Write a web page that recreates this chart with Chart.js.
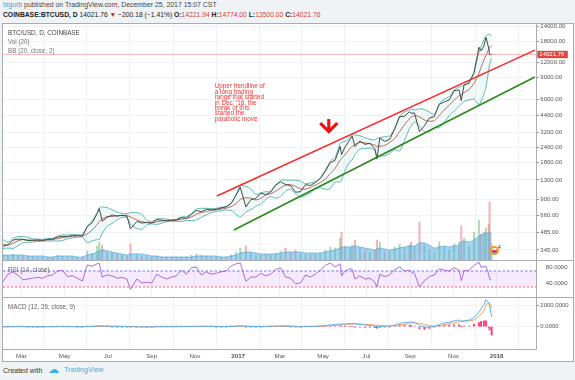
<!DOCTYPE html>
<html><head><meta charset="utf-8">
<script src="https://cdn.jsdelivr.net/npm/chart.js@4"></script>
<style>
html,body{margin:0;padding:0;}
body{width:575px;height:380px;background:#f0f3f6;position:relative;overflow:hidden;font-family:"Liberation Sans",Arial,sans-serif;}
.t{position:absolute;white-space:nowrap;line-height:1;}
#frame{position:absolute;left:2px;top:23px;width:570px;height:337px;border:1px solid #a9adb3;background:#fff;}
canvas{position:absolute;}
.sep{position:absolute;left:3px;width:570px;height:1px;background:#a9adb3;z-index:5;}
.b{font-weight:bold;color:#222;}
.r{color:#d8403a;}
</style></head><body>
<div class="t" style="left:3px;top:2.3px;font-size:6.9px;color:#444;"><span style="color:#3d9ddc">bigurb</span> published on TradingView.com, December 25, 2017 15:07 CST</div>
<div class="t" style="left:3px;top:11.8px;font-size:6.75px;color:#222;"><span class="b">COINBASE:BTCUSD, D</span> 14021.76 <span style="color:#d21e1e">▼</span> −200.18 (−1.41%) <span class="b">O:</span><span class="r">14221.94</span> <span class="b">H:</span><span class="r">14774.00</span> <span class="b">L:</span><span class="r">13500.00</span> <span class="b">C:</span><span class="r">14021.76</span></div>
<div id="frame"></div>
<canvas id="cMain" width="570" height="246" style="left:3px;top:14px;width:570px;height:246px;z-index:2"></canvas>
<canvas id="cRsi" width="570" height="36" style="left:3px;top:261px;width:570px;height:36px;z-index:2"></canvas>
<canvas id="cMacd" width="570" height="64" style="left:3px;top:297px;width:570px;height:64px;z-index:2"></canvas>
<div class="sep" style="top:260px"></div>
<div class="sep" style="top:297px"></div>
<div class="t" style="left:8px;top:30px;font-size:6.3px;color:#444;z-index:6">BTC/USD, D, COINBASE</div>
<div class="t" style="left:8px;top:39.2px;font-size:6.3px;color:#777;z-index:6">Vol (20)</div>
<div class="t" style="left:8px;top:48.2px;font-size:6.3px;color:#777;z-index:6">BB (20, close, 2)</div>
<div class="t" style="left:8px;top:266.5px;font-size:6.3px;color:#666;z-index:6">RSI (14, close)</div>
<div class="t" style="left:8px;top:304px;font-size:6.3px;color:#666;z-index:6">MACD (12, 26, close, 9)</div>
<div class="t" style="left:490px;top:246px;width:9px;height:9px;border:2px solid #f39a2e;border-radius:50%;box-sizing:border-box;background:linear-gradient(#fff 35%,#e04848 35%,#e04848 55%,#fff 55%,#fff 70%,#4a6fd0 70%);z-index:6"></div>
<div class="t" style="left:498px;top:245px;font-size:5px;color:#333;z-index:6">4</div>
<div class="t" style="left:3px;top:366.5px;font-size:7px;color:#333;">Created with</div>
<div class="t" style="left:48px;top:363.5px;font-size:11px;color:#3bb0e3;">☁</div>
<div class="t" style="left:64px;top:366.3px;font-size:7.2px;color:#3bb0e3;">TradingView</div>
<script>
// ---------- DATA (days counted from 2017-01-01) ----------
const days      = [-332,-325,-318,-311,-304,-297,-290,-283,-276,-269,-262,-255,-248,-241,-234,-227,-220,-213,-206,-199,-196,-192,-185,-178,-171,-164,-157,-152,-143,-136,-129,-122,-115,-108,-101,-94,-87,-80,-73,-66,-59,-52,-45,-38,-31,-24,-17,-10,-3,3,11,18,25,32,39,46,53,60,67,74,81,88,95,102,109,116,123,130,137,144,146,151,158,161,165,172,179,186,193,196,200,207,214,221,228,235,242,244,249,256,263,270,277,284,291,298,305,312,315,319,326,333,340,343,347,350,354,355,358];
const closes    = [370,381,416,424,422,412,415,417,413,422,424,441,446,446,452,453,448,537,578,690,755,595,640,670,655,665,655,515,592,575,580,574,613,607,597,605,612,637,630,676,730,712,745,738,745,765,780,830,975,1130,780,895,915,1010,985,1035,1175,1255,1190,1170,1030,1040,1190,1170,1240,1335,1530,1800,1890,2450,2100,2430,2800,2980,2450,2720,2550,2610,2350,1930,2870,2700,2800,3420,4300,4350,4740,4600,4620,3250,3620,4200,4320,5450,5700,5900,7050,7150,5850,7850,8100,9900,16050,15000,16400,19400,15600,13900,14022];
const bbUpper   = [420,400,430,445,445,440,426,424,422,428,430,448,460,458,462,462,462,540,600,700,770,780,770,740,710,690,685,700,700,680,605,590,620,625,618,612,618,645,650,690,750,760,760,755,760,775,790,840,980,1160,1150,1100,990,1020,1040,1050,1190,1290,1300,1290,1300,1270,1210,1230,1260,1360,1560,1850,2000,2600,2650,2700,2900,3050,3050,3000,2900,2800,2780,2850,2900,2950,3000,3450,4350,4700,4900,4950,4900,5000,4950,4700,4500,5500,6000,6300,7100,7600,7700,7900,8400,10000,14600,16200,18600,20000,20600,20400,20000];
const bbBasis   = [385,378,392,410,420,418,414,414,415,418,420,428,436,442,448,450,452,468,505,560,590,620,650,650,660,665,662,645,610,590,580,578,588,598,605,603,606,618,628,645,680,700,715,728,738,750,762,785,830,900,930,920,890,920,975,1000,1050,1120,1180,1190,1150,1100,1090,1130,1180,1240,1320,1470,1620,1900,1950,2100,2350,2450,2550,2650,2620,2580,2520,2450,2460,2500,2650,2850,3250,3700,4150,4250,4400,4300,4050,3950,4000,4400,4900,5350,5900,6400,6550,6800,7200,8100,9800,11000,12600,13800,15600,15900,16500];
const bbLower   = [355,358,355,372,395,398,402,405,408,408,410,408,412,426,434,438,442,395,410,420,420,470,540,570,610,640,640,560,520,510,555,565,560,572,592,594,594,592,605,600,610,640,670,700,715,725,735,730,680,640,710,740,790,820,900,950,920,950,1050,1090,1000,940,970,1020,1100,1120,1090,1100,1250,1250,1300,1550,1850,1900,2100,2330,2350,2380,2280,2050,2050,2050,2150,2300,2250,2750,3450,3600,3900,3600,3250,3250,3500,3500,3850,4400,4800,5250,5450,5750,5900,6000,5400,5800,6600,7600,10600,11500,13000];
const volumes   = [5,4,6,5,4,4,3,3,3,3,3,5,4,3,3,3,3,9,7,14,18,15,8,7,6,5,4,16,6,4,3,3,4,3,3,3,3,3,3,5,6,5,4,3,3,3,3,5,8,12,14,7,5,5,6,5,7,9,12,8,10,6,6,5,6,7,10,13,12,22,28,14,12,15,20,12,9,8,10,20,18,9,9,13,16,12,15,18,14,38,15,10,8,18,13,10,16,18,34,22,14,28,40,26,28,32,36,58,16];
const volumeMA  = [5,5,5,5,5,4,4,4,4,3,3,4,4,4,4,3,3,5,6,8,9,10,9,8,7,6,5,6,6,6,5,4,4,3,3,3,3,3,3,3,4,4,4,4,4,3,3,4,5,7,8,8,7,6,6,6,6,7,8,8,8,8,7,7,7,7,8,9,10,12,13,13,13,13,14,13,12,11,10,11,12,11,10,11,12,13,14,14,14,17,17,15,12,13,14,13,14,15,18,19,18,20,24,25,26,27,27,28,26];
const rsi       = [43,62,68,60,48,50,52,54,52,58,60,70,72,56,58,52,45,85,82,88,89,55,60,58,52,54,50,24,50,40,42,40,62,55,50,55,58,72,62,78,80,60,68,62,64,68,70,82,88,90,44,55,55,64,58,62,74,78,55,52,38,40,60,55,62,72,84,90,80,88,58,70,76,74,50,58,50,52,42,30,62,56,60,74,80,70,72,68,64,30,46,56,60,76,72,70,78,72,46,70,72,84,92,80,80,82,60,50,47];
const macd      = [-8,-6,4,10,10,5,2,1,0,2,3,7,9,8,7,6,3,20,38,60,72,55,48,45,36,28,20,-12,-10,-14,-14,-12,0,4,4,3,4,10,12,20,32,33,35,32,28,24,22,28,55,90,40,20,12,25,30,35,55,75,70,60,10,-20,20,30,40,65,110,165,200,260,245,250,300,330,260,220,170,120,60,0,40,40,60,160,330,380,440,450,430,120,-40,-40,20,220,360,420,560,640,520,560,620,880,1400,1700,2100,2600,2250,1950,950];
const macdSignal= [-10,-8,-3,3,7,7,5,3,2,2,2,4,6,7,7,7,5,8,16,28,36,42,46,47,44,40,34,24,10,0,-8,-11,-8,-4,0,2,3,5,8,12,18,26,30,31,31,29,26,26,34,50,60,48,36,30,30,32,38,50,60,63,50,30,18,20,28,40,60,95,135,180,195,215,245,265,270,255,230,195,150,130,100,80,70,90,150,230,310,330,370,320,220,120,50,80,170,270,370,470,500,520,560,650,1000,1200,1550,2050,2330,2250,1750];
const macdHist  = [2,2,7,7,3,-2,-3,-2,-2,0,1,3,3,1,0,-1,-2,12,22,32,36,13,2,-2,-8,-12,-14,-36,-20,-14,-6,-1,8,8,4,1,1,5,4,8,14,7,5,1,-3,-5,-4,2,21,40,-20,-28,-24,-5,0,3,17,25,10,-3,-40,-50,2,10,12,25,50,70,65,80,50,35,55,65,-10,-35,-60,-75,-90,-130,-60,-40,-10,70,180,150,130,120,60,-200,-260,-160,-30,140,190,150,190,170,20,40,60,230,400,500,550,550,-80,-300,-800];

const lastPrice   = 14021.76;
const priceTicks  = [345,485,660,900,1300,1800,2400,3200,4400,6000,9000,12000,18000,24000];
const rsiTicks    = [40,80];
const rsiLevels   = [70,30];
const macdTicks   = [0,2000];
const monthTicks  = [-306,-245,-184,-122,-61,0,59,120,181,243,304,365];
const monthLabels = ['Mar','May','Jul','Sep','Nov','2017','Mar','May','Jul','Sep','Nov','2018'];
const trendUpper  = [{x:-30,y:960},{x:419,y:15200}];
const trendLower  = [{x:-6,y:504},{x:419,y:9135}];
const noteAt      = {day:-33, price:8100};
const noteLines   = ['Upper trendline of','a long trading','range that started',"in Dec. '16, the",'break of this','started the','parabolic move'];
const arrowAt     = {day:128, top:4120, bottom:3250};
const X_MIN = -332, X_MAX = 421;

// ---------- helpers ----------
const pts = arr => days.map((d,i)=>({x:d, y:arr[i]}));
const FONT = '"Liberation Sans", Arial, sans-serif';
Chart.defaults.font.family = FONT;
Chart.defaults.font.size = 6;
Chart.defaults.color = '#555';
const GRID = '#f0f1f3';
const AXIS = '#a9adb3';
const AXIS_W = 36.7;

function xScale(showLabels){
  return {
    type:'linear', min:X_MIN, max:X_MAX, offset:false,
    afterBuildTicks: s => { s.ticks = monthTicks.map(v=>({value:v})); },
    afterFit: s => { s.height = showLabels ? 12 : 0; s.paddingLeft = 0; s.paddingRight = 0; },
    grid:{color:GRID, drawTicks:false, lineWidth:1},
    border:{display:showLabels, color:AXIS},
    ticks:{display:showLabels, padding:3.5, autoSkip:false, maxRotation:0, color:'#555',
      callback: v => monthLabels[monthTicks.indexOf(v)],
      font: ctx => ({size:6.2, weight: (ctx.tick && /^\d{4}$/.test(ctx.tick.label)) ? 'bold' : 'normal'})}
  };
}
function yRight(extra, ticks, fmt){
  return Object.assign({
    position:'right',
    afterBuildTicks: s => { s.ticks = ticks.map(v=>({value:v})); },
    afterFit: s => { s.width = AXIS_W; s.paddingTop = 0; s.paddingBottom = 0; },
    grid:{color:GRID, drawTicks:true, tickLength:2.5, tickColor:'#888'},
    border:{display:true, color:AXIS},
    ticks:{padding:1.5, autoSkip:false, color:'#555', font:{size:6}, callback: v => Number(v).toFixed(fmt)}
  }, extra);
}
const baseOpts = {
  responsive:false, animation:false, events:[],
  plugins:{legend:{display:false}, tooltip:{enabled:false}},
};

// ---------- MAIN PRICE PANEL ----------
const annotate = {
  id:'annotate',
  afterDatasetsDraw(chart){
    const {ctx, scales:{x,y}, chartArea} = chart;
    ctx.save();
    ctx.fillStyle = '#f03434';
    ctx.font = '6.3px ' + FONT;
    ctx.textBaseline = 'top';
    const nx = x.getPixelForValue(noteAt.day), ny = y.getPixelForValue(noteAt.price);
    noteLines.forEach((t,i)=>ctx.fillText(t, nx, ny + i*5.45));
    const ax = x.getPixelForValue(arrowAt.day), at = y.getPixelForValue(arrowAt.top), ab = y.getPixelForValue(arrowAt.bottom);
    ctx.strokeStyle = '#f01010'; ctx.lineWidth = 3.2; ctx.lineJoin = 'miter';
    ctx.beginPath(); ctx.moveTo(ax, at); ctx.lineTo(ax, ab-2); ctx.stroke();
    ctx.beginPath(); ctx.moveTo(ax-8.5, ab-8.5); ctx.lineTo(ax, ab); ctx.lineTo(ax+8.5, ab-8.5); ctx.stroke();
    const py = y.getPixelForValue(lastPrice);
    ctx.fillStyle = '#e0483f';
    ctx.fillRect(chartArea.right+1, py-3.6, 30.5, 7.4);
    ctx.fillStyle = '#fff';
    ctx.font = '6px ' + FONT;
    ctx.textBaseline = 'middle';
    ctx.fillText(lastPrice.toFixed(2), chartArea.right+3, py+0.3);
    ctx.restore();
  }
};

const volColors = closes.map((c,i)=> (i===0 || c >= closes[i-1]) ? 'rgba(110,190,120,0.55)' : 'rgba(235,120,120,0.55)');

new Chart(document.getElementById('cMain'), {
  type:'line',
  data:{datasets:[
    {type:'bar', data:pts(volumes), yAxisID:'yv', backgroundColor:volColors, barThickness:1.4, order:10},
    {data:pts(volumeMA), yAxisID:'yv', borderColor:'rgba(80,165,220,0.85)', borderWidth:0.8, backgroundColor:'rgba(95,175,228,0.55)', fill:'origin', pointRadius:0, tension:0.3, order:9},
    {data:pts(bbUpper), yAxisID:'y', borderColor:'#5db8b6', borderWidth:1, pointRadius:0, fill:false, tension:0.25, order:8},
    {data:pts(bbLower), yAxisID:'y', borderColor:'#5db8b6', borderWidth:1, pointRadius:0, fill:'-1', backgroundColor:'rgba(93,184,182,0.09)', tension:0.25, order:7},
    {data:pts(bbBasis), yAxisID:'y', borderColor:'#b45a50', borderWidth:0.9, pointRadius:0, fill:false, tension:0.25, order:6},
    {data:pts(closes), yAxisID:'y', borderColor:'#464b46', borderWidth:1, pointRadius:0, fill:false, tension:0, order:5},
    {data:[{x:X_MIN,y:lastPrice},{x:X_MAX,y:lastPrice}], yAxisID:'y', borderColor:'rgba(240,120,120,0.7)', borderWidth:0.8, pointRadius:0, fill:false, order:4},
    {data:trendUpper, yAxisID:'y', borderColor:'#fa2a2a', borderWidth:1.5, pointRadius:0, fill:false, order:3},
    {data:trendLower, yAxisID:'y', borderColor:'#2f8a1f', borderWidth:1.8, pointRadius:0, fill:false, order:2}
  ]},
  options:Object.assign({}, baseOpts, {
    layout:{padding:{top:10,left:0,right:0,bottom:0}},
    scales:{
      x: xScale(false),
      y: yRight({type:'logarithmic', min:285.4, max:24930}, priceTicks, 2),
      yv:{type:'linear', display:false, min:0, max:236, position:'left'}
    }
  }),
  plugins:[annotate]
});

// ---------- RSI PANEL ----------
const lvl = v => [{x:X_MIN,y:v},{x:X_MAX,y:v}];
new Chart(document.getElementById('cRsi'), {
  type:'line',
  data:{datasets:[
    {data:pts(rsi), borderColor:'#a45ad6', borderWidth:0.9, pointRadius:0, fill:false, order:1},
    {data:lvl(rsiLevels[0]), borderColor:'#6a6cff', borderDash:[2.5,2], borderWidth:1, pointRadius:0, fill:false, order:3},
    {data:lvl(rsiLevels[1]), borderColor:'#ff7a7a', borderDash:[2,2], borderWidth:1.2, pointRadius:0, fill:'-1', backgroundColor:'rgba(190,130,240,0.16)', order:2}
  ]},
  options:Object.assign({}, baseOpts, {
    layout:{padding:0},
    scales:{ x: xScale(false), y: yRight({type:'linear', min:5, max:95, grid:{display:false}}, rsiTicks, 4) }
  })
});

// ---------- MACD PANEL ----------
new Chart(document.getElementById('cMacd'), {
  type:'line',
  data:{datasets:[
    {type:'bar', data:pts(macdHist), backgroundColor:'#ff3c7c', barThickness:1.3, order:3},
    {data:pts(macdSignal), borderColor:'#f7a05a', borderWidth:1, pointRadius:0, fill:false, order:2},
    {data:pts(macd), borderColor:'#5cb3ee', borderWidth:1, pointRadius:0, fill:false, order:1}
  ]},
  options:Object.assign({}, baseOpts, {
    layout:{padding:0},
    scales:{ x: xScale(true), y: yRight({type:'linear', min:-2124, max:2829}, macdTicks, 4) }
  })
});
</script>
</body></html>
